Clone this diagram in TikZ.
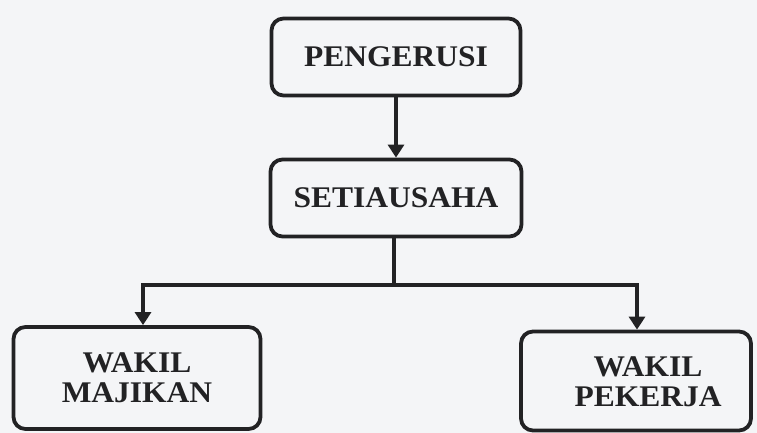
\documentclass[tikz,border=0pt]{standalone}
\usepackage{fontspec}
\setmainfont{Liberation Serif}[FakeStretch=1.05]
\usetikzlibrary{arrows.meta}
\definecolor{bgc}{RGB}{244,245,247}
\definecolor{ink}{RGB}{34,34,36}
\begin{document}
\begin{tikzpicture}[x=1pt,y=-1pt,
  box/.style={draw=ink, line width=3.8pt, rounded corners=12pt, fill=bgc, text=ink,
    align=center, inner sep=0pt, font=\fontsize{30}{30}\selectfont\bfseries},
  lbl/.style={text=ink, align=center, inner sep=0pt, font=\fontsize{30}{30}\selectfont\bfseries},
  conn/.style={draw=ink, line width=3.4pt, line join=miter},
  arr/.style={conn, -{Triangle[width=16pt,length=13pt]}}]
\fill[bgc] (0,0) rectangle (757,433);
\useasboundingbox (0,0) rectangle (757,433);
\node[box, minimum width=249pt, minimum height=77pt] (peng) at (396,57) {PENGERUSI};
\node[box, minimum width=251pt, minimum height=77pt] (seti) at (396,198) {SETIAUSAHA};
\node[box, minimum width=247pt, minimum height=102pt] (maj) at (137,378) {WAKIL\\MAJIKAN};
\node[box, minimum width=230pt, minimum height=99pt] (pek) at (636,381) {};
\node[lbl] (pektxt) at (648,382) {WAKIL\\PEKERJA};
\coordinate (jn) at (394,285);
\coordinate (jl) at (143,285);
\coordinate (jr) at (637,285);
\draw[arr] (peng.south) -- (seti.north);
\draw[conn] (seti.south -| jn) -- (jn);
\draw[arr] (jn) -- (jl) -- (jl |- maj.north);
\draw[arr] (jn) -- (jr) -- (jr |- pek.north);
\end{tikzpicture}
\end{document}
